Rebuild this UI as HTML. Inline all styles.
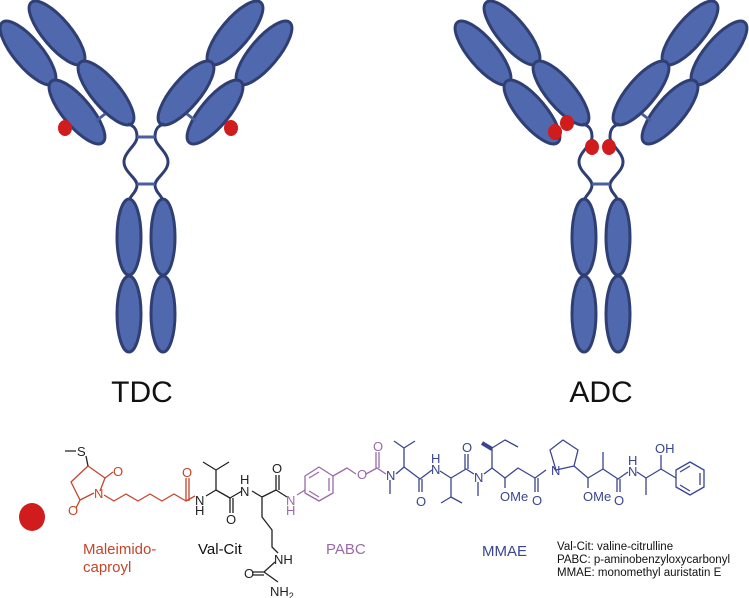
<!DOCTYPE html>
<html><head><style>
html,body{margin:0;padding:0;background:#fff;}
svg{display:block;}
</style></head><body>
<svg width="749" height="598" viewBox="0 0 749 598" xmlns="http://www.w3.org/2000/svg">
<defs>
<g id="ab">
  <g fill="#5068ad" stroke="#2f3f73" stroke-width="3">
    <ellipse cx="28" cy="53" rx="40" ry="14" transform="rotate(50 28 53)"/>
    <ellipse cx="77" cy="112" rx="40" ry="14" transform="rotate(50 77 112)"/>
    <ellipse cx="57" cy="33" rx="40" ry="14" transform="rotate(50 57 33)"/>
    <ellipse cx="106" cy="93" rx="40" ry="14" transform="rotate(50 106 93)"/>
    <ellipse cx="264" cy="53" rx="40" ry="14" transform="rotate(-50 264 53)"/>
    <ellipse cx="215" cy="112" rx="40" ry="14" transform="rotate(-50 215 112)"/>
    <ellipse cx="235" cy="33" rx="40" ry="14" transform="rotate(-50 235 33)"/>
    <ellipse cx="186" cy="93" rx="40" ry="14" transform="rotate(-50 186 93)"/>
    <ellipse cx="129" cy="237" rx="12" ry="38"/>
    <ellipse cx="129" cy="314" rx="12" ry="38"/>
    <ellipse cx="163" cy="237" rx="12" ry="38"/>
    <ellipse cx="163" cy="314" rx="12" ry="38"/>
  </g>
  <g fill="none" stroke="#2f3f73" stroke-width="3">
    <path d="M128,124 C136,126 137,132 137,137 C137,145 124,152 124,162 C124,172 137,178 137,185 C137,192 130,196 130,199"/>
    <path d="M164,124 C156,126 155,132 155,137 C155,145 168,152 168,162 C168,172 155,178 155,185 C155,192 162,196 162,199"/>
  </g>
  <line x1="137" y1="184" x2="155" y2="184" stroke="#4a5fa0" stroke-width="3"/>
</g>
</defs>

<!-- TDC -->
<use href="#ab"/>
<g stroke="#4a5fa0" stroke-width="3">
  <line x1="137" y1="137" x2="155" y2="137"/>
  <line x1="96" y1="121" x2="105" y2="114"/>
  <line x1="196" y1="121" x2="187" y2="114"/>
</g>
<ellipse cx="65" cy="128" rx="7" ry="8" fill="#d01c1c"/>
<ellipse cx="231" cy="128" rx="7" ry="8" fill="#d01c1c"/>

<!-- ADC -->
<g transform="translate(455,0)">
  <use href="#ab"/>
  <line x1="196" y1="121" x2="187" y2="114" stroke="#4a5fa0" stroke-width="3"/>
  <g fill="#d01c1c">
    <ellipse cx="100" cy="132" rx="7" ry="8"/>
    <ellipse cx="112" cy="123" rx="7" ry="8"/>
    <ellipse cx="137" cy="147" rx="7" ry="8"/>
    <ellipse cx="154" cy="147" rx="7" ry="8"/>
  </g>
</g>

<g font-family="Liberation Sans, sans-serif" font-size="30" fill="#111" text-anchor="middle">
  <text x="142" y="402">TDC</text>
  <text x="601" y="402">ADC</text>
</g>

<!-- payload dot -->
<ellipse cx="32" cy="517" rx="13" ry="14" fill="#d01c1c"/>

<!-- chemistry -->
<g fill="none" stroke-width="1.3" stroke-linejoin="round">
  <g stroke="#c4452a">
    <path d="M88,466 L105,478 L100,491 M94,493 L80,500 L71,482 L88,466"/>
    <path d="M105,478 L113,472"/>
    <path d="M80,500 L76,508"/>
    <path d="M104,495 L114,501 L126,494 L138,501 L150,494 L162,501 L174,494 L186,501 L195,496"/>
    <path d="M186,501 L186,478 M189,501 L189,478"/>
  </g>
  <path d="M65,451 L76,451 M86,456 L88,466" stroke="#222"/>
  <g stroke="#222">
    <path d="M206,496 L216,490 L230,498 L242,491"/>
    <path d="M216,490 L216,470 L203,462 M216,470 L229,462" />
    <path d="M230,498 L230,513 M233,498 L233,513"/>
    <path d="M252,491 L262,497 L276,490 L287,497"/>
    <path d="M276,490 L276,475 M279,490 L279,475"/>
    <path d="M262,497 L262,517 L272,530 L272,547 L278,553"/>
    <path d="M275,562 L264,572 L278,582 M264,572 L252,572 M264,575 L252,575"/>
  </g>
  <g stroke="#9a6aa8">
    <path d="M297,495 L305,490"/>
    <path d="M305,476 L319,467 L333,476 L333,493 L319,501 L305,493 Z"/>
    <path d="M309,478 L319,472 M329,478 L329,491 M309,491 L319,497"/>
    <path d="M333,476 L347,468 L356,474"/>
    <path d="M366,474 L377,468 L386,474 M376,468 L376,452 M379,468 L379,452"/>
  </g>
  <g stroke="#3a4590">
    <path d="M390,480 L390,494 M396,474 L404,467 L420,479 L432,470"/>
    <path d="M404,467 L404,448 L394,441 M404,448 L415,441"/>
    <path d="M419,479 L419,492 M422,479 L422,492"/>
    <path d="M440,471 L451,478 L466,469 L474,474"/>
    <path d="M451,478 L451,497 L441,503 M451,497 L462,503"/>
    <path d="M465,469 L465,454 M468,469 L468,454"/>
    <path d="M478,482 L478,496 M484,474 L492,468 L505,478 L518,468 L535,478 L546,470"/>
    <path d="M492,468 L492,448 L505,440 L518,447"/>
    <path d="M505,478 L505,488"/>
    <path d="M535,478 L535,492 M538,478 L538,492"/>
    <path d="M556,470 L550,450 L563,440 L578,450 L574,466 Z" />
    <path d="M574,466 L588,478 L603,469 L618,479 L628,472"/>
    <path d="M588,478 L588,488 M603,469 L603,452"/>
    <path d="M617,479 L617,492 M620,479 L620,492"/>
    <path d="M637,472 L646,478 L661,469 L676,478"/>
    <path d="M646,478 L646,495 M661,469 L661,455"/>
    <path d="M676,470 L690,462 L704,470 L704,487 L690,495 L676,487 Z"/>
    <path d="M680,472 L690,466 M700,473 L700,485 M680,485 L690,491"/>
  </g>
  <path d="M492,449 L482,443" stroke="#3a4590" stroke-width="4"/>
</g>
<g font-family="Liberation Sans, sans-serif" font-size="13">
  <g fill="#222"><text x="77" y="456">S</text>
    <text x="195" y="505">N</text><text x="195" y="515">H</text>
    <text x="226" y="524">O</text>
    <text x="240" y="496">N</text><text x="240" y="484">H</text>
    <text x="272" y="473">O</text>
    <text x="274" y="564">NH</text>
    <text x="244" y="578">O</text>
    <text x="270" y="596">NH<tspan font-size="9" dy="3">2</tspan></text>
  </g>
  <g fill="#c4452a"><text x="113" y="476">O</text><text x="94" y="498">N</text><text x="68" y="515">O</text><text x="182" y="477">O</text></g>
  <g fill="#9a6aa8"><text x="286" y="505">N</text><text x="286" y="515">H</text><text x="357" y="479">O</text><text x="373" y="451">O</text></g>
  <g fill="#3a4590">
    <text x="386" y="480">N</text><text x="416" y="506">O</text>
    <text x="431" y="474">N</text><text x="431" y="463">H</text>
    <text x="462" y="452">O</text><text x="474" y="482">N</text>
    <text x="500" y="501">OMe</text><text x="532" y="505">O</text>
    <text x="551" y="475">N</text>
    <text x="583" y="501">OMe</text><text x="614" y="505">O</text>
    <text x="628" y="476">N</text><text x="628" y="465">H</text>
    <text x="655" y="453">OH</text>
  </g>
  <text x="83" y="554" fill="#c4452a" font-size="15">Maleimido-</text>
  <text x="83" y="572" fill="#c4452a" font-size="15">caproyl</text>
  <text x="198" y="554" fill="#111" font-size="15">Val-Cit</text>
  <text x="326" y="554" fill="#9a6aa8" font-size="15">PABC</text>
  <text x="482" y="556" fill="#3a4590" font-size="15">MMAE</text>
  <g fill="#111" font-size="11.5">
    <text x="557" y="550">Val-Cit: valine-citrulline</text>
    <text x="557" y="563">PABC: p-aminobenzyloxycarbonyl</text>
    <text x="557" y="576">MMAE: monomethyl auristatin E</text>
  </g>
</g>
</svg>
</body></html>
